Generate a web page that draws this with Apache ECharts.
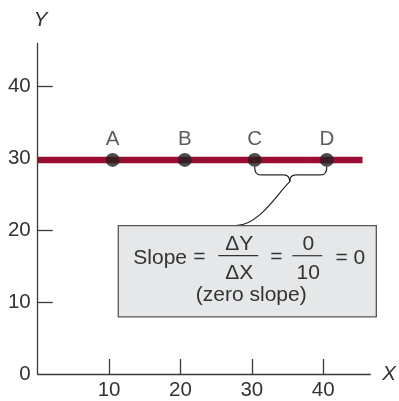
<!DOCTYPE html>
<html>
<head>
<meta charset="utf-8">
<script src="https://cdn.jsdelivr.net/npm/echarts@6/dist/echarts.min.js"></script>
<style>
html,body{margin:0;padding:0;background:#fff;}
#chart{width:399px;height:401px;}
</style>
</head>
<body>
<div id="chart"></div>
<script>
// ---- data ----
var xTickValues = [10, 20, 30, 40];
var yLabelValues = [0, 10, 20, 30, 40];
var yTickValues = [10, 20, 30, 40];
var pointNames = ['A', 'B', 'C', 'D'];
var pointX = [10.5, 20.6, 30.4, 40.5];
var pointY = [29.8, 29.8, 29.8, 29.8];
var lineX = [0, 45.5];
var lineY = [29.8, 29.8];
var boxCorners = [11.29, 20.64, 47.44, 7.95]; // x0, y0 (top), x1, y1 (bottom)

var FONT = '"Liberation Sans", Arial, Helvetica, sans-serif';
var TXT = '#333333';
var AX = '#3a3a3a';

var chart = echarts.init(document.getElementById('chart'));

var lineData = lineX.map(function (x, i) { return [x, lineY[i]]; });
var pointData = pointX.map(function (x, i) { return { value: [x, pointY[i]], name: pointNames[i] }; });

function renderAnnotation(params, api) {
  var p0 = api.coord([api.value(0), api.value(1)]);
  var p1 = api.coord([api.value(2), api.value(3)]);
  var bx = p0[0], by = p0[1], bw = p1[0] - p0[0], bh = p1[1] - p0[1];
  var c = api.coord([pointX[2], pointY[2]]);
  var d = api.coord([pointX[3], pointY[3]]);
  var cx = c[0], cy = c[1], dx = d[0];
  var mid = (cx + dx) / 2 - 1;
  var ls = { stroke: '#231f20', lineWidth: 1.2, fill: null };
  var tipY = cy + 22, barY = cy + 15, topY = cy + 7;
  var children = [
    { type: 'bezierCurve', shape: { x1: cx, y1: topY, cpx1: cx, cpy1: barY, x2: cx + 6, y2: barY }, style: ls },
    { type: 'line', shape: { x1: cx + 6, y1: barY, x2: mid - 6, y2: barY }, style: ls },
    { type: 'bezierCurve', shape: { x1: mid - 6, y1: barY, cpx1: mid, cpy1: barY, x2: mid, y2: tipY }, style: ls },
    { type: 'bezierCurve', shape: { x1: mid, y1: tipY, cpx1: mid, cpy1: barY, x2: mid + 6, y2: barY }, style: ls },
    { type: 'line', shape: { x1: mid + 6, y1: barY, x2: dx - 6, y2: barY }, style: ls },
    { type: 'bezierCurve', shape: { x1: dx - 6, y1: barY, cpx1: dx, cpy1: barY, x2: dx, y2: topY }, style: ls },
    { type: 'bezierCurve', shape: { x1: mid, y1: tipY, cpx1: mid - 10, cpy1: tipY + 8, cpx2: mid - 30, cpy2: by, x2: mid - 54, y2: by }, style: ls },
    { type: 'rect', shape: { x: bx, y: by, width: bw, height: bh }, style: { fill: '#e6e7e8', stroke: '#555555', lineWidth: 1.3 } }
  ];
  function t(str, x, y, size, align) {
    children.push({ type: 'text', style: { text: str, x: bx + x, y: by + y, fill: TXT, fontSize: size, fontFamily: FONT, align: align || 'center', verticalAlign: 'middle' } });
  }
  function hl(x0, x1, y) {
    children.push({ type: 'line', shape: { x1: bx + x0, y1: by + y, x2: bx + x1, y2: by + y }, style: { stroke: TXT, lineWidth: 1.2 } });
  }
  t('Slope', 15, 32, 21, 'left');
  t('=', 81, 31, 21);
  t('\u0394Y', 121, 18, 21);
  hl(100, 140, 30);
  t('\u0394X', 121, 47, 21);
  t('=', 158, 31, 21);
  t('0', 190, 18, 21);
  hl(174, 204, 30);
  t('10', 190, 47, 21);
  t('= 0', 232, 32, 21);
  t('(zero slope)', 133, 69, 21);
  return { type: 'group', children: children };
}

var option = {
  animation: false,
  backgroundColor: '#ffffff',
  grid: { left: 37.7, right: 25.7, top: 43.5, bottom: 26.5, containLabel: false },
  xAxis: {
    type: 'value', min: 0, max: 46.6,
    name: 'X', nameLocation: 'end', nameGap: 12,
    nameTextStyle: { fontFamily: FONT, fontSize: 20.5, fontStyle: 'italic', color: TXT, verticalAlign: 'middle', align: 'left', padding: [4, 0, 0, 0] },
    axisLine: { show: true, lineStyle: { color: AX, width: 1.3 } },
    axisTick: { show: true, inside: true, length: 15, customValues: xTickValues, lineStyle: { color: AX, width: 1.3 } },
    axisLabel: { show: true, customValues: xTickValues, margin: 6, fontFamily: FONT, fontSize: 20.5, color: TXT },
    splitLine: { show: false }
  },
  yAxis: {
    type: 'value', min: 0, max: 46,
    name: 'Y', nameLocation: 'end', nameGap: 13,
    nameTextStyle: { fontFamily: FONT, fontSize: 20.5, fontStyle: 'italic', color: TXT, align: 'center', padding: [0, 0, 0, 6] },
    axisLine: { show: true, lineStyle: { color: AX, width: 1.3 } },
    axisTick: { show: true, inside: true, length: 15, customValues: yTickValues, lineStyle: { color: AX, width: 1.3 } },
    axisLabel: { show: true, customValues: yLabelValues, margin: 7, fontFamily: FONT, fontSize: 20.5, color: TXT, padding: [6, 0, 0, 0] },
    splitLine: { show: false }
  },
  series: [
    {
      type: 'line', data: lineData, symbol: 'none', silent: true,
      lineStyle: { color: '#9c0d35', width: 6.5 }, z: 2
    },
    {
      type: 'scatter', data: pointData, symbol: 'circle', symbolSize: 14,
      itemStyle: { color: '#231f20' }, z: 3,
      label: { show: true, position: 'top', distance: 3, formatter: '{b}', fontFamily: FONT, fontSize: 20.5, color: TXT }
    },
    {
      type: 'custom', data: [boxCorners], renderItem: renderAnnotation, clip: false, z: 4, silent: true,
      encode: { x: [0, 2], y: [1, 3] }
    }
  ]
};
chart.setOption(option);
</script>
</body>
</html>
